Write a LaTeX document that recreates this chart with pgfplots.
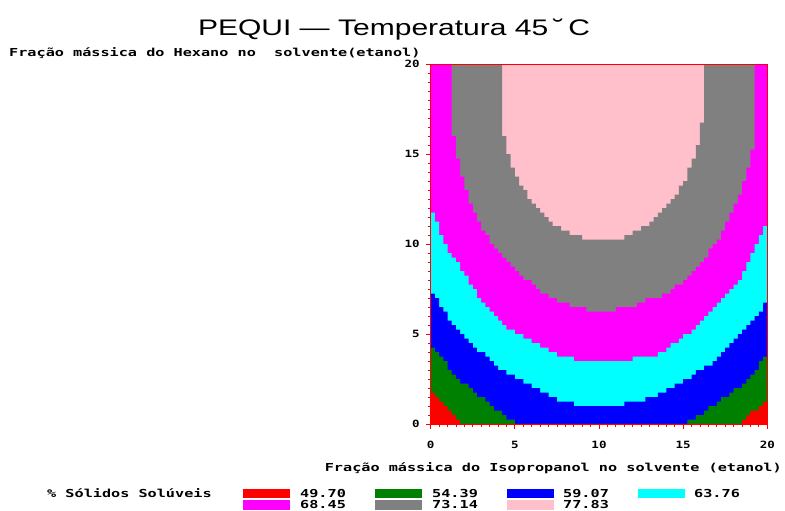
\documentclass[border=0pt]{standalone}
\usepackage{fontspec}
\usepackage{graphicx}
\usepackage{pgfplots}
\pgfplotsset{compat=1.18}
\newfontfamily\sasfont{DejaVu Sans Mono}
\newfontfamily\titlefont{Liberation Sans}
\definecolor{cRed}{RGB}{255,0,0}
\definecolor{cGreen}{RGB}{0,128,0}
\definecolor{cBlue}{RGB}{0,0,255}
\definecolor{cCyan}{RGB}{0,255,255}
\definecolor{cMag}{RGB}{255,0,255}
\definecolor{cGray}{RGB}{128,128,128}
\definecolor{cPink}{RGB}{255,192,203}
\newcommand{\sas}[1]{\scalebox{1.38}[1]{\sasfont\bfseries\fontsize{11}{13}\selectfont #1}}
\newcommand{\tl}[1]{\scalebox{1.25}[1]{\sasfont\bfseries\fontsize{10}{12}\selectfont #1}}
\begin{document}
\begin{tikzpicture}[x=1pt,y=1pt]
\path[use as bounding box] (0,0) rectangle (785,511);
\begin{axis}[
  at={(430.7pt,87pt)}, anchor=south west,
  scale only axis, width=336.6pt, height=359.7pt,
  xmin=0, xmax=20, ymin=0, ymax=20,
  axis on top,
  axis background/.style={fill=cPink},
  axis line style={cRed, line width=0.8pt},
  tick style={cRed, line width=0.8pt},
  tick align=outside, tick pos=left,
  major tick length=5pt, minor tick length=3pt,
  xtick={0,5,10,15,20}, ytick={0,5,10,15,20},
  minor tick num=9,
  xticklabels={\tl{0},\tl{5},\tl{10},\tl{15},\tl{20}},
  yticklabels={\tl{0},\tl{5},\tl{10},\tl{15},\tl{20}},
  xticklabel style={yshift=-9pt},
  yticklabel style={xshift=-2.5pt},
]
% gray band: below the gray/pink boundary
\addplot[fill=cGray, draw=none, const plot] coordinates {
(0,20) (4.25,16) (4.5,15) (4.75,14.25) (5,13.75) (5.25,13.25) (5.5,13) (5.75,12.5)
(6,12.25) (6.25,12) (6.5,11.75) (6.75,11.5) (7,11.25) (7.25,11) (7.75,10.75) (8.25,10.5)
(9,10.25) (11.5,10.5) (12,10.75) (12.5,11) (13,11.25) (13.25,11.5) (13.5,11.75) (13.75,12)
(14,12.25) (14.25,12.5) (14.5,12.75) (14.75,13.25) (15,13.5) (15.25,14.25) (15.5,14.75)
(15.75,15.5) (16,16.75) (16.25,20) (20,20)} \closedcycle;
% magenta band: below the magenta/gray boundary
\addplot[fill=cMag, draw=none, const plot] coordinates {
(0,20) (1.25,16) (1.5,14.75) (1.75,13.75) (2,13) (2.25,12.25) (2.5,11.75) (2.75,11.25)
(3,10.75) (3.25,10.5) (3.5,10) (3.75,9.75) (4,9.5) (4.25,9.25) (4.5,9) (4.75,8.75) (5,8.5)
(5.25,8.25) (5.5,8) (6,7.75) (6.25,7.5) (6.5,7.25) (7,7) (7.5,6.75) (8.25,6.5) (9.25,6.25)
(11,6.5) (12.25,6.75) (12.75,7) (13.75,7.25) (14.25,7.5) (14.5,7.75) (15,8) (15.25,8.25)
(15.5,8.5) (15.75,8.75) (16,9) (16.25,9.25) (16.5,9.75) (16.75,10) (17,10.25) (17.25,10.75)
(17.5,11.25) (17.75,11.75) (18,12.25) (18.25,12.75) (18.5,13.5) (18.75,14.25) (19,15.25)
(19.25,20) (20,20)} \closedcycle;
% cyan band: below the cyan/magenta boundary
\addplot[fill=cCyan, draw=none, const plot] coordinates {
(0,11.75) (0.25,11.25) (0.5,10.5) (0.75,10) (1,9.5) (1.25,9.25) (1.5,9) (1.75,8.5) (2,8.25)
(2.25,7.75) (2.5,7.5) (2.75,7) (3,6.75) (3.25,6.5) (3.5,6.25) (3.75,6) (4,5.75) (4.25,5.5)
(4.5,5.25) (5,5) (5.5,4.75) (6,4.5) (6.5,4.25) (7,4) (7.5,3.75) (8.5,3.5) (12,3.75) (13.5,4)
(14,4.25) (14.25,4.5) (14.75,4.75) (15,5) (15.5,5.25) (15.75,5.5) (16,5.75) (16.25,6)
(16.5,6.25) (16.75,6.5) (17,6.75) (17.25,7) (17.5,7.25) (17.75,7.5) (18,7.75) (18.25,8)
(18.5,8.5) (18.75,9) (19,9.5) (19.25,10) (19.5,10.5) (19.75,11) (20,11)} \closedcycle;
% blue band: below the blue/cyan boundary
\addplot[fill=cBlue, draw=none, const plot] coordinates {
(0,7.25) (0.25,7) (0.5,6.5) (0.75,6.25) (1,5.75) (1.25,5.5) (1.5,5.25) (1.75,5) (2,4.75)
(2.25,4.5) (2.5,4.25) (2.75,4) (3.25,3.75) (3.5,3.5) (3.75,3.25) (4,3) (4.5,2.75) (5,2.5)
(5.5,2.25) (6,2) (6.5,1.75) (7,1.5) (7.5,1.25) (8.5,1) (11.5,1.25) (12.75,1.5) (13.5,1.75)
(14,2) (14.5,2.25) (15,2.5) (15.5,2.75) (15.75,3) (16.25,3.25) (16.75,3.5) (17,3.75)
(17.25,4) (17.5,4.25) (17.75,4.5) (18,4.75) (18.25,5) (18.5,5.25) (18.75,5.5) (19,5.75)
(19.25,6) (19.5,6.25) (19.75,6.75) (20,6.75)} \closedcycle;
% green band: below the green/blue boundary
\addplot[fill=cGreen, draw=none, const plot] coordinates {
(0,4.25) (0.25,4) (0.5,3.75) (0.75,3.5) (1,3) (1.25,2.75) (1.5,2.5) (1.75,2.25) (2.25,2)
(2.5,1.75) (2.75,1.5) (3.25,1.25) (3.5,1) (3.75,0.75) (4.25,0.5) (4.5,0.25) (5,0)
(15.25,0.25) (15.75,0.5) (16.25,0.75) (16.5,1) (17,1.25) (17.25,1.5) (17.75,1.75) (18,2)
(18.5,2.25) (18.75,2.5) (19,2.75) (19.25,3) (19.5,3.5) (19.75,3.75) (20,3.75)} \closedcycle;
% red band: below the red/green boundary
\addplot[fill=cRed, draw=none, const plot] coordinates {
(0,1.75) (0.25,1.5) (0.5,1.25) (0.75,1) (1,0.75) (1.25,0.5) (1.5,0.25) (1.75,0)
(18.5,0.25) (18.75,0.5) (19,0.75) (19.5,1) (19.75,1.25) (20,1.25)} \closedcycle;
\end{axis}
% title and axis labels
\node[anchor=base, inner sep=0] at (394,475)
  {\resizebox{392pt}{\height}{\titlefont\fontsize{22.5}{27}\selectfont PEQUI — Temperatura 45\,˘\,C}};
\node[anchor=base west, inner sep=0] at (9,454) {\sas{Fração mássica do Hexano no\ \ solvente(etanol)}};
\node[anchor=base east, inner sep=0] at (782,39) {\sas{Fração mássica do Isopropanol no solvente (etanol)}};
% legend
\node[anchor=base west, inner sep=0] at (47,13) {\sas{\% Sólidos Solúveis}};
\fill[cRed]   (243,13.2) rectangle (290,22.2);
\fill[cGreen] (375,13.2) rectangle (422,22.2);
\fill[cBlue]  (507,13.2) rectangle (554,22.2);
\fill[cCyan]  (638,13.2) rectangle (685,22.2);
\fill[cMag]   (243,0.5) rectangle (290,10.5);
\fill[cGray]  (375,0.5) rectangle (422,10.5);
\fill[cPink]  (507,0.5) rectangle (554,10.5);
\node[anchor=base west, inner sep=0] at (300,13) {\sas{49.70}};
\node[anchor=base west, inner sep=0] at (432,13) {\sas{54.39}};
\node[anchor=base west, inner sep=0] at (563,13) {\sas{59.07}};
\node[anchor=base west, inner sep=0] at (694,13) {\sas{63.76}};
\node[anchor=base west, inner sep=0] at (300,2) {\sas{68.45}};
\node[anchor=base west, inner sep=0] at (432,2) {\sas{73.14}};
\node[anchor=base west, inner sep=0] at (563,2) {\sas{77.83}};
\end{tikzpicture}
\end{document}
